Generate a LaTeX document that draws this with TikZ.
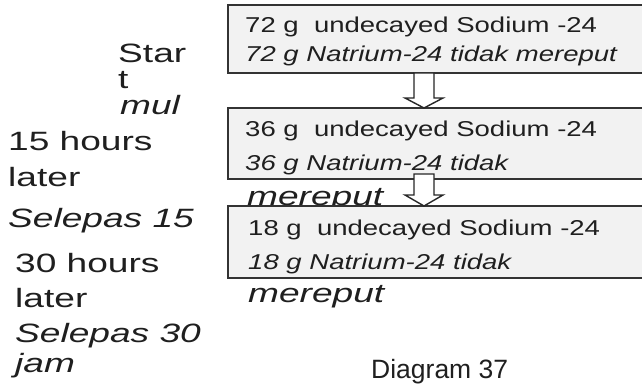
\documentclass[tikz,border=0pt]{standalone}
\usepackage{fontspec}
\setmainfont{Liberation Sans}
\usetikzlibrary{calc}
\tikzset{
  boxstyle/.style={draw=black!80, fill=black!5, line width=1.5pt, minimum width=440pt, anchor=north west, inner sep=0pt, outer sep=0pt},
  boxtext/.style={anchor=base west, inner sep=0pt, text=black!88, font=\fontsize{21.5}{24}\selectfont},
  sidetext/.style={anchor=base west, inner sep=0pt, text=black!88, font=\fontsize{26.5}{30}\selectfont},
  blockarrow/.style={draw=black!85, fill=white, line width=1.4pt, line join=miter},
}
\newcommand{\bx}[1]{\scalebox{1.28}[1]{#1}}
\newcommand{\sx}[1]{\scalebox{1.4}[1]{#1}}
\begin{document}
\begin{tikzpicture}[x=1pt,y=-1pt]
\useasboundingbox (0,0) rectangle (642,385);
\clip (0,0) rectangle (642,385);
\coordinate (ax) at (424,0);

% box 1
\node[boxstyle, minimum height=68pt] (box1) at (228,5) {};
\node[boxtext] (t1a) at (245,33) {\bx{72 g\ \ undecayed Sodium -24}};
\node[boxtext] (t1b) at (245,62) {\bx{\itshape 72 g Natrium-24 tidak mereput}};

% box 2
\node[boxstyle, minimum height=71pt] (box2) at (228,108) {};
\node[boxtext] (t2a) at (245,136) {\bx{36 g\ \ undecayed Sodium -24}};
\node[boxtext] (t2b) at (245,170) {\bx{\itshape 36 g Natrium-24 tidak}};
\node[sidetext] (m2) at (247,205) {\sx{\itshape mereput}};

% arrow 1
\draw[blockarrow]
  ($(box1.south -| ax)+(-10,0)$) -- ($(box2.north -| ax)+(-10,-10)$)
  -- ($(box2.north -| ax)+(-19,-10)$) -- (box2.north -| ax)
  -- ($(box2.north -| ax)+(19,-10)$) -- ($(box2.north -| ax)+(10,-10)$)
  -- ($(box1.south -| ax)+(10,0)$) -- cycle;

% box 3
\node[boxstyle, minimum height=72pt] (box3) at (228,206) {};
\node[boxtext] (t3a) at (248,235) {\bx{18 g\ \ undecayed Sodium -24}};
\node[boxtext] (t3b) at (248,269) {\bx{\itshape 18 g Natrium-24 tidak}};
\node[sidetext] (m3) at (248,302) {\sx{\itshape mereput}};

% arrow 2
\draw[blockarrow]
  ($(box2.south -| ax)+(-10,-5)$) -- ($(box3.north -| ax)+(-10,-11)$)
  -- ($(box3.north -| ax)+(-19,-11)$) -- (box3.north -| ax)
  -- ($(box3.north -| ax)+(19,-11)$) -- ($(box3.north -| ax)+(10,-11)$)
  -- ($(box2.south -| ax)+(10,-5)$) -- cycle;

% side labels
\node[sidetext] (s1) at (118,63) {\sx{Star}};
\node[sidetext] (s2) at (118,89) {\sx{t}};
\node[sidetext] (s3) at (120,115) {\sx{\itshape mul}};
\node[sidetext] (s4) at (8,150) {\sx{15 hours}};
\node[sidetext] (s5) at (8,186) {\sx{later}};
\node[sidetext] (s6) at (8,227) {\sx{\itshape Selepas 15}};
\node[sidetext] (s7) at (15,272) {\sx{30 hours}};
\node[sidetext] (s8) at (15,307) {\sx{later}};
\node[sidetext] (s9) at (15,342) {\sx{\itshape Selepas 30}};
\node[sidetext] (s10) at (15,372) {\sx{\itshape jam}};

\node[sidetext] (cap) at (371,378) {Diagram 37};
\end{tikzpicture}
\end{document}
